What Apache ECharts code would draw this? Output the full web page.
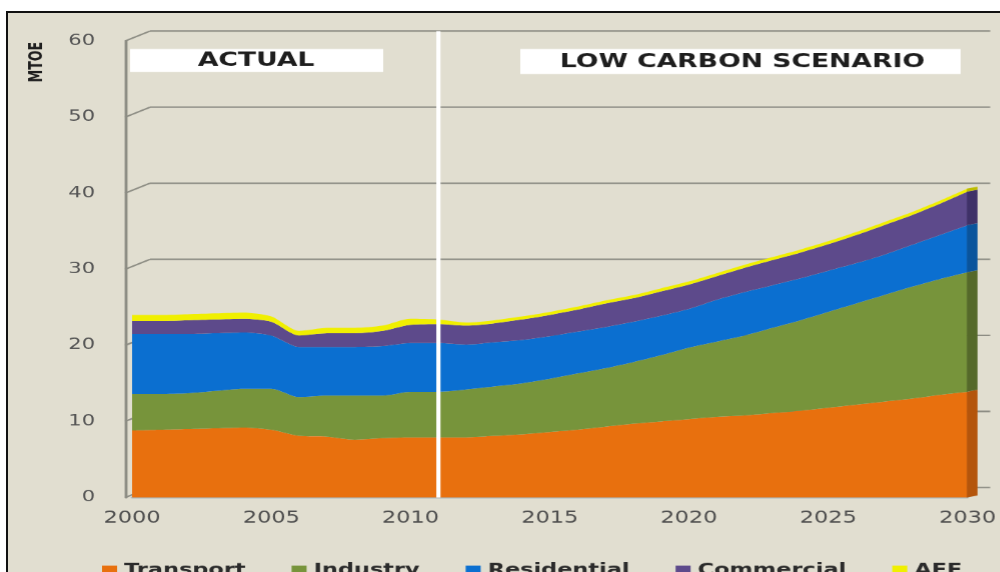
<!DOCTYPE html>
<html>
<head>
<meta charset="utf-8">
<title>Final energy demand – actual and low carbon scenario</title>
<script src="https://cdn.jsdelivr.net/npm/echarts@6/dist/echarts.min.js"></script>
<style>
  html, body { margin: 0; padding: 0; background: #ffffff; width: 1000px; height: 572px; overflow: hidden; }
  #frame { position: absolute; left: 6px; top: 11px; width: 994px; height: 561px; box-sizing: border-box;
           background: #e1ded0; border-left: 2px solid #111; border-top: 2px solid #111; }
  /* the chart is laid out narrow and widened horizontally, giving the broad lettering */
  #chart { position: absolute; left: 0; top: 0; width: 714.2857px; height: 572px;
           transform: scaleX(1.4); transform-origin: 0 0; }
</style>
</head>
<body>
<div id="frame"></div>
<div id="chart"></div>
<script>
// ---- data (MTOE) ----
const years = ['2000', '2001', '2002', '2003', '2004', '2005', '2006', '2007', '2008', '2009', '2010',
               '2011', '2012', '2013', '2014', '2015', '2016', '2017', '2018', '2019', '2020',
               '2021', '2022', '2023', '2024', '2025', '2026', '2027', '2028', '2029', '2030'];
const transport   = [8.8, 8.9, 9.0, 9.1, 9.2, 8.9, 8.1, 8.0, 7.6, 7.8, 7.9,
                     7.9, 7.9, 8.1, 8.3, 8.6, 8.9, 9.3, 9.7, 10.0, 10.3,
                     10.6, 10.8, 11.1, 11.4, 11.8, 12.2, 12.6, 13.0, 13.5, 13.9];
const industry    = [4.8, 4.7, 4.7, 4.9, 5.1, 5.4, 5.1, 5.4, 5.8, 5.6, 6.0,
                     6.0, 6.3, 6.5, 6.7, 7.0, 7.4, 7.7, 8.1, 8.7, 9.4,
                     9.9, 10.5, 11.2, 11.9, 12.6, 13.3, 14.0, 14.7, 15.2, 15.7];
const residential = [7.9, 7.9, 7.8, 7.6, 7.4, 7.0, 6.6, 6.4, 6.4, 6.5, 6.4,
                     6.4, 5.9, 5.8, 5.7, 5.6, 5.5, 5.4, 5.3, 5.2, 5.1,
                     5.5, 5.7, 5.6, 5.5, 5.4, 5.3, 5.3, 5.5, 5.8, 6.2];
const commercial  = [1.7, 1.7, 1.8, 1.8, 1.8, 1.8, 1.5, 1.8, 1.8, 2.0, 2.4,
                     2.5, 2.5, 2.5, 2.7, 2.8, 2.9, 3.1, 3.1, 3.2, 3.2,
                     3.1, 3.2, 3.3, 3.4, 3.5, 3.7, 3.9, 3.9, 4.1, 4.4];
const aff         = [0.8, 0.8, 0.8, 0.8, 0.8, 0.7, 0.6, 0.7, 0.7, 0.7, 0.8,
                     0.6, 0.4, 0.4, 0.4, 0.4, 0.4, 0.4, 0.4, 0.4, 0.4,
                     0.4, 0.4, 0.4, 0.4, 0.4, 0.4, 0.4, 0.4, 0.4, 0.4];
const seriesNames  = ['Transport', 'Industry', 'Residential', 'Commercial', 'AFF'];
const seriesColors = ['#e8700e', '#77943b', '#0b6fd0', '#5d4a8b', '#f0ef00'];
const sideColors   = ['#b4550c', '#55692a', '#0a549c', '#3f3168', '#bdbc00'];
const periodLabels = ['ACTUAL', 'LOW CARBON SCENARIO'];
const scenarioStart = '2011';
const yTicks = [0, 10, 20, 30, 40, 50, 60];
const yTitle = 'MTOE';

// horizontal widening factor of the canvas (see #chart style)
const SX = 1.4;
const px = v => v / SX;

const chart = echarts.init(document.getElementById('chart'), null,
                           { renderer: 'canvas', devicePixelRatio: SX });

const values = [transport, industry, residential, commercial, aff];
const series = seriesNames.map((name, k) => ({
  name: name,
  type: 'line',
  stack: 'demand',
  xAxisIndex: 0,
  yAxisIndex: 0,
  smooth: 0.25,
  symbol: 'none',
  z: 3,
  lineStyle: { width: 0 },
  itemStyle: { color: seriesColors[k] },
  areaStyle: { color: seriesColors[k], opacity: 1 },
  data: values[k]
}));

chart.setOption({
  animation: false,
  backgroundColor: 'transparent',
  grid: [
    { left: px(132), right: px(28), top: 41, bottom: 75 },   // front face of the areas
    { left: px(150), right: px(10), top: 31, bottom: 85 }    // back wall carrying the grid lines
  ],
  xAxis: [
    { type: 'category', gridIndex: 0, data: years, boundaryGap: false,
      axisLine: { show: true, lineStyle: { color: '#a9b6bd', width: 2 } },
      axisTick: { show: false }, splitLine: { show: false },
      axisLabel: { interval: 4, color: '#4e4e4e', fontSize: 16,
                   fontFamily: 'DejaVu Sans', margin: 13 } },
    { type: 'value', gridIndex: 1, min: 0, max: 1, show: false }
  ],
  yAxis: [
    { type: 'value', gridIndex: 0, min: 0, max: 60, interval: 10, offset: px(7),
      axisLine: { show: true, lineStyle: { color: '#8c8c83', width: 2 } },
      axisTick: { show: false }, splitLine: { show: false },
      axisLabel: { color: '#555555', fontSize: 15, fontFamily: 'DejaVu Sans', margin: px(30) } },
    { type: 'value', gridIndex: 1, min: 0, max: 60, interval: 10,
      axisLine: { show: false }, axisTick: { show: false }, axisLabel: { show: false },
      splitLine: { show: true, lineStyle: { color: '#8d8d84', width: 1.5 } } }
  ],
  legend: {
    left: px(95), top: 557, itemWidth: px(15), itemHeight: 10, itemGap: px(46), icon: 'rect',
    textStyle: { fontFamily: 'DejaVu Sans', fontWeight: 'bold', fontSize: 16, color: '#2b2b2b' },
    data: seriesNames
  },
  series: series
});

// ---- wall edges, side face, period divider and period labels ----
const wallX  = chart.convertToPixel({ gridIndex: 0 }, [0, 0])[0] - px(7);
const backX  = chart.convertToPixel({ gridIndex: 1 }, [0, 0])[0];
const divX   = chart.convertToPixel({ xAxisIndex: 0 }, scenarioStart);
const floorY = chart.convertToPixel({ yAxisIndex: 0 }, 0);
const topY   = chart.convertToPixel({ yAxisIndex: 1 }, 60);

const graphics = [];
yTicks.forEach(v => {
  graphics.push({
    type: 'line', z: 1, silent: true,
    shape: { x1: wallX, y1: chart.convertToPixel({ yAxisIndex: 0 }, v),
             x2: backX, y2: chart.convertToPixel({ yAxisIndex: 1 }, v) },
    style: { stroke: '#8d8d84', lineWidth: 1.5 }
  });
});

// depth face on the right end of the stacked areas
const last = years.length - 1;
const endX = chart.convertToPixel({ xAxisIndex: 0 }, years[last]);
const depthX = px(10), depthY = -2;
let base = 0;
values.forEach((arr, k) => {
  const top = base + arr[last];
  const yb = chart.convertToPixel({ yAxisIndex: 0 }, base);
  const yt = chart.convertToPixel({ yAxisIndex: 0 }, top);
  graphics.push({
    type: 'polygon', z: 4, silent: true,
    shape: { points: [[endX - 0.5, yb], [endX - 0.5, yt], [endX + depthX, yt + depthY], [endX + depthX, yb + depthY]] },
    style: { fill: sideColors[k] }
  });
  base = top;
});

graphics.push({
  type: 'line', z: 20, silent: true,
  shape: { x1: divX, y1: topY, x2: divX, y2: floorY },
  style: { stroke: '#ffffff', lineWidth: 3 }
});
graphics.push({
  type: 'rect', z: 20, silent: true,
  shape: { x: px(130), y: 49, width: px(253), height: 23 },
  style: { fill: '#ffffff' }
});
graphics.push({
  type: 'text', z: 21, silent: true, x: px(256), y: 61,
  style: { text: periodLabels[0], align: 'center', verticalAlign: 'middle',
           font: 'bold 19px "DejaVu Sans"', fill: '#1e1e1e' }
});
graphics.push({
  type: 'rect', z: 20, silent: true,
  shape: { x: px(520), y: 49, width: px(440), height: 25 },
  style: { fill: '#ffffff' }
});
graphics.push({
  type: 'text', z: 21, silent: true, x: px(742), y: 62,
  style: { text: periodLabels[1], align: 'center', verticalAlign: 'middle',
           font: 'bold 19px "DejaVu Sans"', fill: '#1e1e1e' }
});
graphics.push({
  type: 'text', z: 21, silent: true, x: px(37), y: 62, rotation: Math.PI / 2,
  style: { text: yTitle, align: 'center', verticalAlign: 'middle',
           font: 'bold 14px "DejaVu Sans Condensed", "DejaVu Sans"', fill: '#1e1e1e' }
});

chart.setOption({ graphic: graphics });
</script>
</body>
</html>
